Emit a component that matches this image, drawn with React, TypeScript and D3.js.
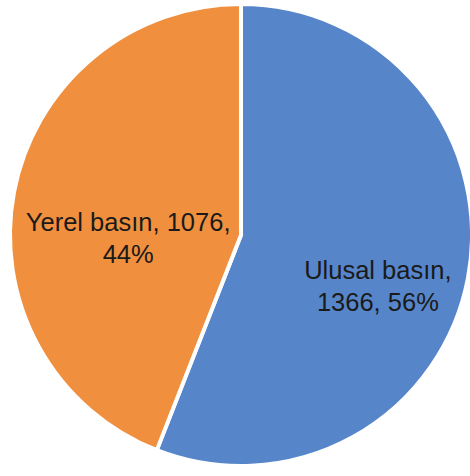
import React from "react";
import * as d3 from "d3";

const categories = ["Ulusal basın", "Yerel basın"];
const values = [1366, 1076];
const percents = ["56%", "44%"];
const colors = ["#5686C9", "#F0903F"];

const W = 470;
const H = 476;
const cx = 241;
const cy = 235;
const R = 231;

export default function App() {
  const pie = d3
    .pie<number>()
    .sort(null)
    .value((d) => d)(values);
  const arc = d3.arc<d3.PieArcDatum<number>>().innerRadius(0).outerRadius(R);
  const labelArc = d3
    .arc<d3.PieArcDatum<number>>()
    .innerRadius(R * 0.55)
    .outerRadius(R * 0.55);

  const labelLines = (i: number): string[] =>
    i === 0
      ? [`${categories[i]},`, `${values[i]}, ${percents[i]}`]
      : [`${categories[i]}, ${values[i]},`, `${percents[i]}`];

  return (
    <svg
      width={W}
      height={H}
      style={{ position: "absolute", left: 0, top: 0, background: "#fff" }}
    >
      <g transform={`translate(${cx},${cy})`}>
        {pie.map((p, i) => (
          <path
            key={i}
            d={arc(p) || ""}
            fill={colors[i]}
            stroke="#fff"
            strokeWidth={4}
            strokeLinejoin="round"
          />
        ))}
        {pie.map((p, i) => {
          const [x, y] = labelArc.centroid(p);
          const lines = labelLines(i);
          return (
            <text
              key={"t" + i}
              x={x + 12}
              y={y + 20}
              textAnchor="middle"
              fontFamily="'Liberation Sans', Arial, sans-serif"
              fontSize={25.5}
              fill="#1a1a1a"
            >
              {lines.map((l, j) => (
                <tspan key={j} x={x + 12} dy={j === 0 ? 0 : 32}>
                  {l}
                </tspan>
              ))}
            </text>
          );
        })}
      </g>
    </svg>
  );
}
